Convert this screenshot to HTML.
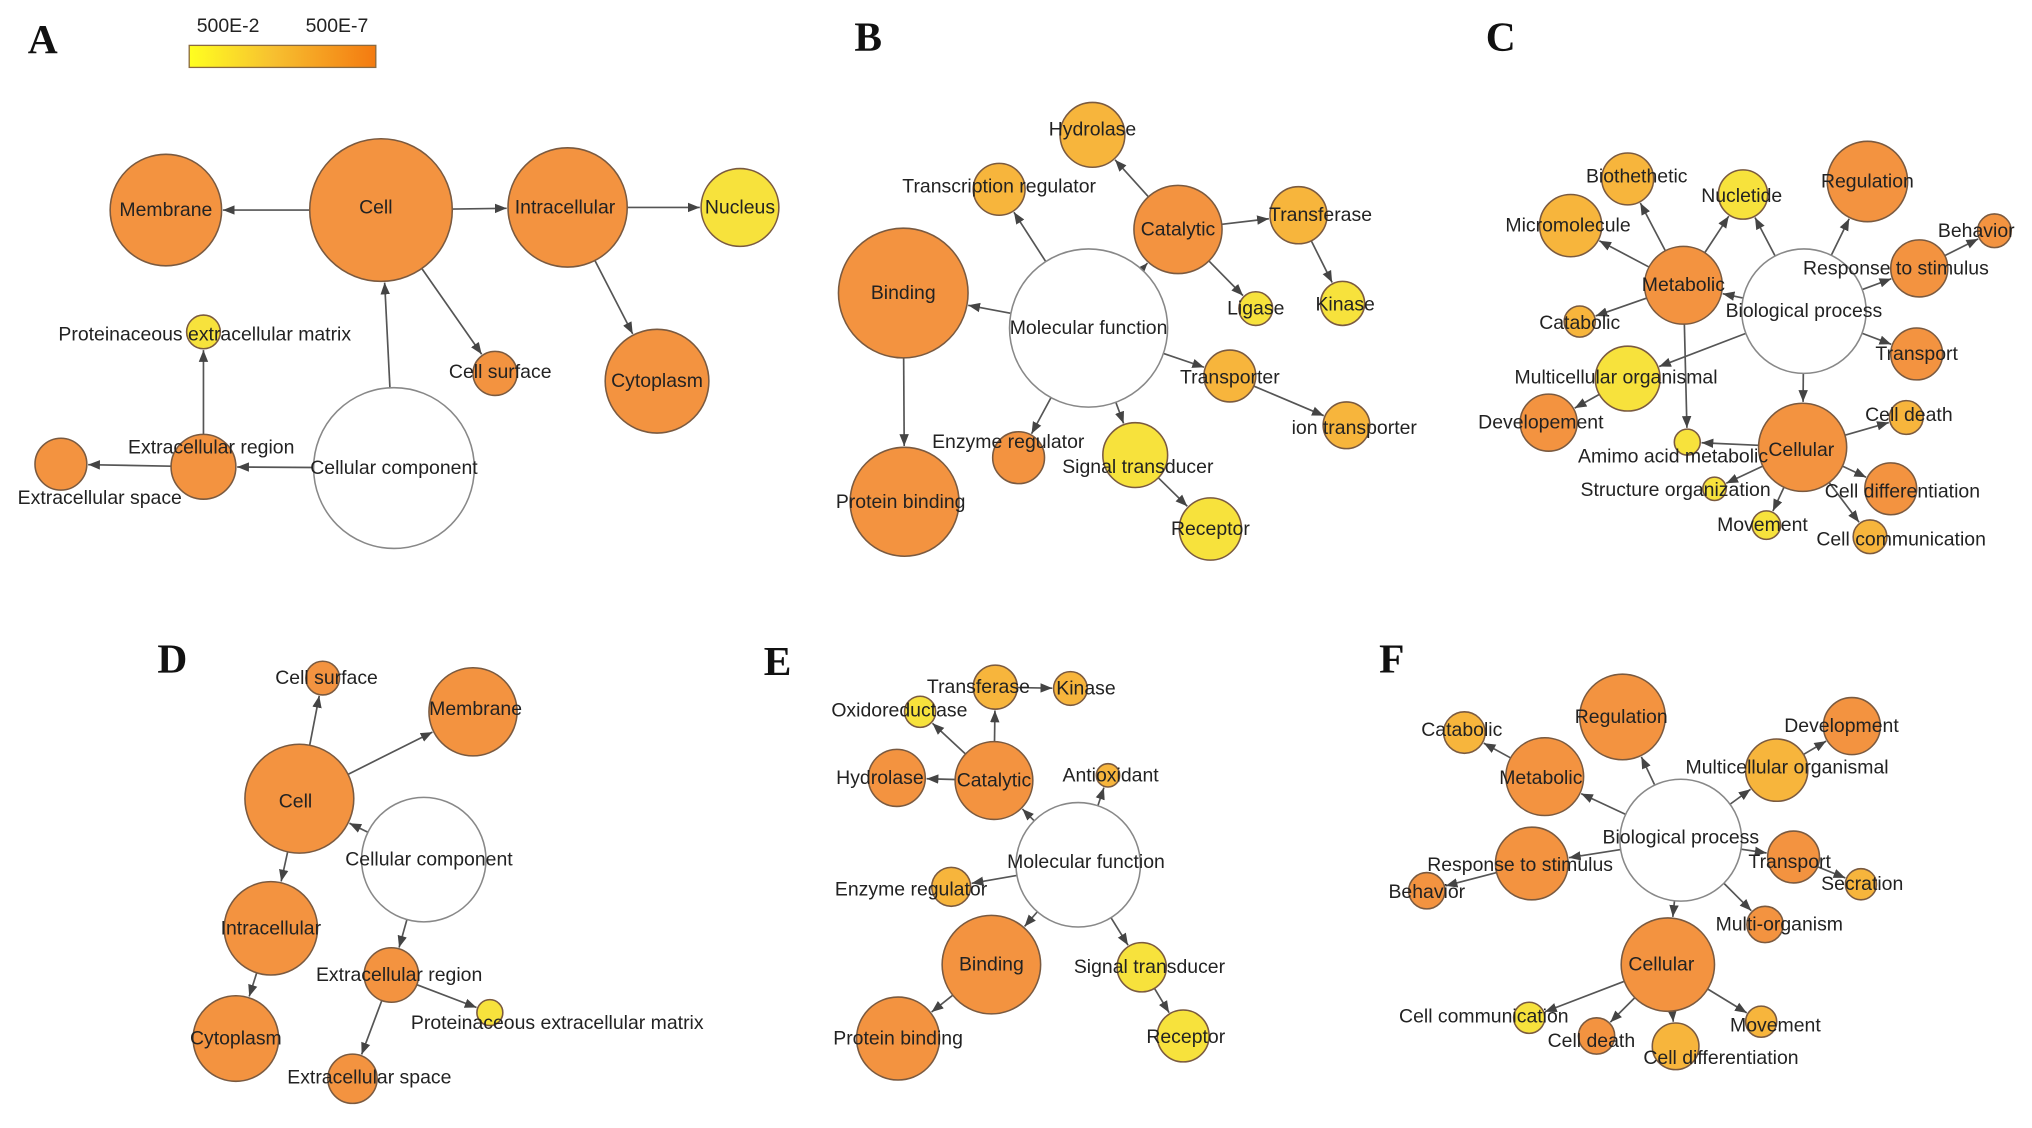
<!DOCTYPE html>
<html><head><meta charset="utf-8"><style>
html,body{margin:0;padding:0;background:#fff;}
svg{display:block;}
text{font-family:"Liberation Sans",sans-serif;font-size:15px;fill:#222;text-anchor:middle;dominant-baseline:central;}
.L{font-family:"Liberation Serif",serif;font-weight:bold;font-size:32px;fill:#111;}
circle{stroke:#7a5a40;stroke-width:1.2;}
.o{fill:#F39340;} .y{fill:#F7E23C;} .m{fill:#F7B53C;} .w{fill:#fff;stroke:#888;}
line{stroke:#555;stroke-width:1.3;}
</style></head><body>
<svg id="s" width="2032" height="1128" viewBox="0 0 1568 870" preserveAspectRatio="none" xmlns="http://www.w3.org/2000/svg">
<defs>
<linearGradient id="g" x1="0" x2="1"><stop offset="0" stop-color="#FFFF20"/><stop offset="0.45" stop-color="#F7C030"/><stop offset="1" stop-color="#F47A10"/></linearGradient>
<marker id="a" viewBox="0 0 10 10" refX="10" refY="5" markerWidth="7" markerHeight="7" orient="auto"><path d="M0,1 L10,5 L0,9 z" fill="#444"/></marker>
</defs>
<g id="edges"></g>
<g id="nodes"></g>
<g id="labels">
<text class="L" x="33" y="30">A</text><text class="L" x="670" y="28">B</text><text class="L" x="1158" y="28">C</text>
<text class="L" x="133" y="508">D</text><text class="L" x="600" y="510">E</text><text class="L" x="1074" y="508">F</text>
<rect x="146" y="35" width="144" height="17" fill="url(#g)" stroke="#8a6a40"/>
<text x="176" y="20">500E-2</text><text x="260" y="20">500E-7</text>
</g>
<g id="tl2">
<text x="128" y="162">Membrane</text><text x="290" y="160">Cell</text><text x="436" y="160">Intracellular</text><text x="571" y="160">Nucleus</text>
<text x="158" y="258">Proteinaceous extracellular matrix</text><text x="386" y="287">Cell surface</text><text x="507" y="294">Cytoplasm</text>
<text x="163" y="345">Extracellular region</text><text x="77" y="384">Extracellular space</text><text x="304" y="361">Cellular component</text>
<text x="843" y="100">Hydrolase</text><text x="771" y="144">Transcription regulator</text><text x="909" y="177">Catalytic</text><text x="1019" y="166">Transferase</text>
<text x="1038" y="235">Kinase</text><text x="969" y="238">Ligase</text><text x="697" y="226">Binding</text><text x="840" y="253">Molecular function</text>
<text x="949" y="291">Transporter</text><text x="1045" y="330">ion transporter</text><text x="778" y="341">Enzyme regulator</text><text x="878" y="360">Signal transducer</text>
<text x="934" y="408">Receptor</text><text x="695" y="387">Protein binding</text>
<text x="1441" y="140">Regulation</text><text x="1263" y="136">Biothethetic</text><text x="1344" y="151">Nucletide</text><text x="1210" y="174">Micromolecule</text>
<text x="1525" y="178">Behavior</text><text x="1463" y="207">Response to stimulus</text><text x="1299" y="220">Metabolic</text><text x="1392" y="240">Biological process</text>
<text x="1219" y="249">Catabolic</text><text x="1479" y="273">Transport</text><text x="1247" y="291">Multicellular organismal</text><text x="1189" y="326">Developement</text>
<text x="1473" y="320">Cell death</text><text x="1390" y="347">Cellular</text><text x="1291" y="352">Amimo acid metabolic</text><text x="1468" y="379">Cell differentiation</text>
<text x="1293" y="378">Structure organization</text><text x="1360" y="405">Movement</text><text x="1467" y="416">Cell communication</text>
<text x="252" y="523">Cell surface</text><text x="367" y="547">Membrane</text><text x="228" y="618">Cell</text><text x="331" y="663">Cellular component</text>
<text x="209" y="716">Intracellular</text><text x="308" y="752">Extracellular region</text><text x="430" y="789">Proteinaceous extracellular matrix</text>
<text x="182" y="801">Cytoplasm</text><text x="285" y="831">Extracellular space</text>
<text x="755" y="530">Transferase</text><text x="838" y="531">Kinase</text><text x="694" y="548">Oxidoreductase</text><text x="679" y="600">Hydrolase</text>
<text x="767" y="602">Catalytic</text><text x="857" y="598">Antioxidant</text><text x="838" y="665">Molecular function</text><text x="703" y="686">Enzyme regulator</text>
<text x="765" y="744">Binding</text><text x="887" y="746">Signal transducer</text><text x="693" y="801">Protein binding</text><text x="915" y="800">Receptor</text>
<text x="1128" y="563">Catabolic</text><text x="1251" y="553">Regulation</text><text x="1421" y="560">Development</text><text x="1189" y="600">Metabolic</text>
<text x="1379" y="592">Multicellular organismal</text><text x="1297" y="646">Biological process</text><text x="1173" y="667">Response to stimulus</text>
<text x="1381" y="665">Transport</text><text x="1437" y="682">Secration</text><text x="1101" y="688">Behavior</text><text x="1373" y="713">Multi-organism</text>
<text x="1282" y="744">Cellular</text><text x="1145" y="784">Cell communication</text><text x="1228" y="803">Cell death</text><text x="1370" y="791">Movement</text>
<text x="1328" y="816">Cell differentiation</text>
</g>
</svg>
<script>
var N={
a_mem:[128,162,43,'o'],a_cell:[294,162,55,'o'],a_int:[438,160,46,'o'],a_nuc:[571,160,30,'y'],
a_pem:[157,256,13,'y'],a_cs:[382,288,17,'o'],a_cyt:[507,294,40,'o'],
a_er:[157,360,25,'o'],a_es:[47,358,20,'o'],a_cc:[304,361,62,'w'],
b_hyd:[843,104,25,'m'],b_tr:[771,146,20,'m'],b_cat:[909,177,34,'o'],
b_tf:[1002,166,22,'m'],b_kin:[1036,234,17,'y'],b_lig:[969,238,13,'y'],
b_bind:[697,226,50,'o'],b_mf:[840,253,61,'w'],b_tp:[949,290,20,'m'],
b_ion:[1039,328,18,'m'],b_enz:[786,353,20,'o'],b_sig:[876,351,25,'y'],
b_rec:[934,408,24,'y'],b_pb:[698,387,42,'o'],
c_reg:[1441,140,31,'o'],c_bio:[1256,138,20,'m'],c_nuc:[1345,150,19,'y'],
c_mic:[1212,174,24,'m'],c_beh:[1539,178,13,'o'],c_res:[1481,207,22,'o'],
c_met:[1299,220,30,'o'],c_bp:[1392,240,48,'w'],c_cat:[1219,248,12,'m'],
c_tra:[1479,273,20,'o'],c_mul:[1256,292,25,'y'],c_dev:[1195,326,22,'o'],
c_cd:[1471,322,13,'m'],c_cel:[1391,345,34,'o'],c_ami:[1302,341,10,'y'],
c_dif:[1459,377,20,'o'],c_str:[1323,377,9,'y'],c_mov:[1363,405,11,'y'],
c_com:[1443,414,13,'m'],
d_cs:[249,523,13,'o'],d_mem:[365,549,34,'o'],d_cell:[231,616,42,'o'],
d_cc:[327,663,48,'w'],d_int:[209,716,36,'o'],d_er:[302,752,21,'o'],
d_pem:[378,781,10,'y'],d_cyt:[182,801,33,'o'],d_es:[272,832,19,'o'],
e_tf:[768,530,17,'m'],e_kin:[826,531,13,'m'],e_ox:[710,549,12,'y'],
e_hyd:[692,600,22,'o'],e_cat:[767,602,30,'o'],e_ant:[855,598,9,'m'],
e_mf:[832,667,48,'w'],e_enz:[734,684,15,'m'],e_bind:[765,744,38,'o'],
e_sig:[881,746,19,'y'],e_pb:[693,801,32,'o'],e_rec:[913,799,20,'y'],
f_cat:[1130,565,16,'m'],f_reg:[1252,553,33,'o'],f_dev:[1429,560,22,'o'],
f_met:[1192,599,30,'o'],f_mul:[1371,594,24,'m'],f_bp:[1297,648,47,'w'],
f_res:[1182,666,28,'o'],f_tra:[1384,661,20,'o'],f_sec:[1436,682,12,'m'],
f_beh:[1101,687,14,'o'],f_mo:[1362,713,14,'o'],f_cel:[1287,744,36,'o'],
f_com:[1180,785,12,'y'],f_cd:[1232,799,14,'o'],f_mov:[1359,788,12,'m'],
f_dif:[1293,807,18,'m']
};
var E=[['a_cell','a_mem'],['a_cell','a_int'],['a_int','a_nuc'],['a_int','a_cyt'],['a_cell','a_cs'],['a_cc','a_cell'],['a_cc','a_er'],['a_er','a_es'],['a_er','a_pem'],
['b_mf','b_bind'],['b_mf','b_cat'],['b_mf','b_tr'],['b_mf','b_tp'],['b_mf','b_enz'],['b_mf','b_sig'],['b_cat','b_hyd'],['b_cat','b_tf'],['b_cat','b_lig'],['b_tf','b_kin'],['b_tp','b_ion'],['b_sig','b_rec'],['b_bind','b_pb'],
['c_bp','c_reg'],['c_bp','c_nuc'],['c_bp','c_met'],['c_bp','c_res'],['c_bp','c_tra'],['c_bp','c_mul'],['c_bp','c_cel'],['c_met','c_mic'],['c_met','c_bio'],['c_met','c_nuc'],['c_met','c_cat'],['c_met','c_ami'],['c_mul','c_dev'],['c_res','c_beh'],['c_cel','c_cd'],['c_cel','c_dif'],['c_cel','c_com'],['c_cel','c_mov'],['c_cel','c_str'],['c_cel','c_ami'],
['d_cell','d_cs'],['d_cell','d_mem'],['d_cc','d_cell'],['d_cell','d_int'],['d_int','d_cyt'],['d_cc','d_er'],['d_er','d_pem'],['d_er','d_es'],
['e_mf','e_cat'],['e_cat','e_tf'],['e_tf','e_kin'],['e_cat','e_ox'],['e_cat','e_hyd'],['e_mf','e_ant'],['e_mf','e_enz'],['e_mf','e_bind'],['e_mf','e_sig'],['e_bind','e_pb'],['e_sig','e_rec'],
['f_bp','f_reg'],['f_bp','f_met'],['f_met','f_cat'],['f_bp','f_mul'],['f_mul','f_dev'],['f_bp','f_res'],['f_res','f_beh'],['f_bp','f_tra'],['f_tra','f_sec'],['f_bp','f_mo'],['f_bp','f_cel'],['f_cel','f_com'],['f_cel','f_cd'],['f_cel','f_mov'],['f_cel','f_dif']];
var ns='http://www.w3.org/2000/svg',eg=document.getElementById('edges'),ng=document.getElementById('nodes');
E.forEach(function(e){var a=N[e[0]],b=N[e[1]],dx=b[0]-a[0],dy=b[1]-a[1],d=Math.hypot(dx,dy),ux=dx/d,uy=dy/d;
var l=document.createElementNS(ns,'line');l.setAttribute('x1',a[0]+ux*a[2]);l.setAttribute('y1',a[1]+uy*a[2]);
l.setAttribute('x2',b[0]-ux*(b[2]+1));l.setAttribute('y2',b[1]-uy*(b[2]+1));l.setAttribute('marker-end','url(#a)');eg.appendChild(l);});
for(var k in N){var n=N[k];var c=document.createElementNS(ns,'circle');c.setAttribute('cx',n[0]);c.setAttribute('cy',n[1]);c.setAttribute('r',n[2]);c.setAttribute('class',n[3]);ng.appendChild(c);}
</script>
</body></html>
